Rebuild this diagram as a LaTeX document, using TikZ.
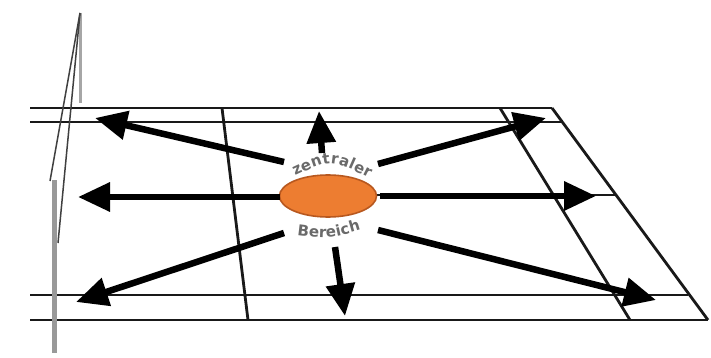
\documentclass[tikz,border=0pt]{standalone}
\usepackage{fontspec}
\newfontfamily\labelfont{DejaVu Sans}[BoldFont={DejaVu Sans Bold}]
\usetikzlibrary{arrows.meta,decorations.text,shapes.geometric}
\definecolor{zoneorange}{HTML}{ED7D31}
\definecolor{zoneedge}{HTML}{B8581F}
\definecolor{labelgray}{HTML}{6A6A6A}
\begin{document}
\begin{tikzpicture}[x=1pt,y=-1pt,
  courtline/.style={line width=2.8pt, draw=black!90},
  netline/.style={line width=1.5pt, draw=black!75},
  postbar/.style={line width=5pt, draw=black!40},
  dirarrow/.style={line width=6.5pt, draw=black,
    -{Triangle[length=32pt,width=28pt]}},
  zone/.style={ellipse, draw=zoneedge, line width=1.6pt, fill=zoneorange,
    minimum width=97pt, minimum height=42pt, inner sep=0pt},
  arclabel/.style={decorate, decoration={text along path,
    text align=fit to path,
    text={|\labelfont\bfseries\fontsize{15}{17}\selectfont\color{labelgray}|#1}}}
]
\useasboundingbox (0,0) rectangle (711,358);
\fill[white] (0,0) rectangle (711,358);

% side lines of the court
\draw[courtline] (30,108) -- (552,108);
\draw[courtline] (30,122) -- (562,122);
\draw[courtline] (30,295) -- (688,295);
\draw[courtline] (30,320) -- (708,320);
% short service line, centre line
\draw[courtline] (222,108) -- (248,320);
\draw[courtline] (232,195) -- (616,195);
% long service line and back boundary line
\draw[courtline] (500,108) -- (630,320);
\draw[courtline] (552,108) -- (708,320);

% central zone
\node[zone] (Z) at (328,196) {};

% arrow ends around the zone
\coordinate (sU)  at (322,153); \coordinate (tU)  at (319,111);
\coordinate (sUL) at (284,162); \coordinate (tUL) at (95,118);
\coordinate (sL)  at (280,197); \coordinate (tL)  at (78,197);
\coordinate (sLL) at (284,233); \coordinate (tLL) at (76,302);
\coordinate (sD)  at (335,247); \coordinate (tD)  at (345,316);
\coordinate (sLR) at (378,230); \coordinate (tLR) at (656,300);
\coordinate (sR)  at (380,196); \coordinate (tR)  at (596,196);
\coordinate (sUR) at (378,164); \coordinate (tUR) at (546,118);

\foreach \d in {U,UL,L,LL,D,LR,R,UR}
  \draw[dirarrow] (s\d) -- (t\d);

% curved labels
\path[arclabel=zentraler] (295,176) .. controls (331,159) .. (369,178);
\path[arclabel=Bereich] (297,235) .. controls (330,239) .. (361,230);

% net with its posts
\coordinate (ptop) at (80,13);
\coordinate (pfoot) at (54,353);
\coordinate (nA) at (50,181);
\coordinate (nB) at (58,243);
\draw[line width=3pt, draw=black!35] (ptop) -- (80,103);
\draw[netline] (ptop) -- (nA);
\draw[netline] (ptop) -- (nB);
\draw[postbar] (54,180) -- (pfoot);
\end{tikzpicture}
\end{document}
